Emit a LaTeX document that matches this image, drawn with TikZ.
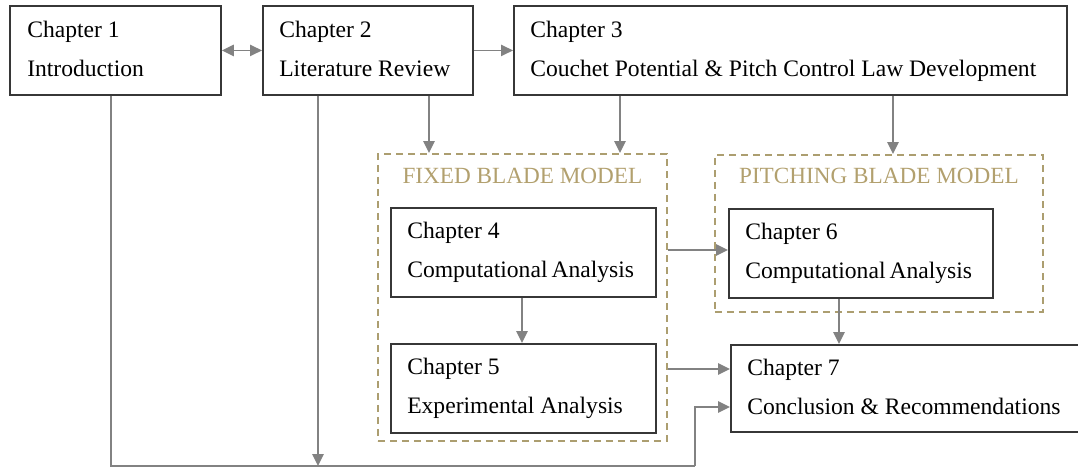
\documentclass[tikz,border=0pt]{standalone}
\usepackage{fontspec}
\setmainfont{Liberation Serif}
\usetikzlibrary{calc,arrows.meta}
\definecolor{boxline}{RGB}{55,55,55}
\definecolor{arrgray}{RGB}{130,130,130}
\definecolor{khaki}{RGB}{172,158,112}
\definecolor{khakitext}{RGB}{178,160,110}
\tikzset{
  chbox/.style={draw=boxline, line width=1.4pt, rectangle, inner sep=0pt},
  grpbox/.style={draw=khaki, line width=1.4pt, dash pattern=on 5.5pt off 3.5pt, rectangle, inner sep=0pt},
  chtext/.style={anchor=base west, inner sep=0pt, font=\fontsize{17.7}{20}\selectfont, text=black},
  grptext/.style={anchor=base, inner sep=0pt, font=\fontsize{17.4}{20}\selectfont, text=khakitext},
  arr/.style={draw=arrgray, line width=1.2pt, -{Triangle[length=9pt,width=8.5pt]}},
  darr/.style={draw=arrgray, line width=1.2pt, {Triangle[length=9pt,width=8.5pt]}-{Triangle[length=9pt,width=8.5pt]}},
  ln/.style={draw=arrgray, line width=1.2pt},
}
\begin{document}
\begin{tikzpicture}[x=0.75pt,y=-0.75pt]
\useasboundingbox (0,0) rectangle (1078,468);
\clip (0,0) rectangle (1078,468);
% group boxes
\node[grpbox, anchor=north west, minimum width=289*0.75pt, minimum height=287*0.75pt] (fixed) at (377,153) {};
\node[grpbox, anchor=north west, minimum width=328*0.75pt, minimum height=157*0.75pt] (pitch) at (714,154) {};
\node[grptext] (fixedlbl) at ($(fixed.north)+(0,30)$) {FIXED BLADE MODEL};
\node[grptext] (pitchlbl) at ($(pitch.north)+(0,29)$) {PITCHING BLADE MODEL};
% chapter boxes
\node[chbox, anchor=north west, minimum width=211*0.75pt, minimum height=89*0.75pt] (c1) at (9,5) {};
\node[chbox, anchor=north west, minimum width=210*0.75pt, minimum height=89*0.75pt] (c2) at (262,5) {};
\node[chbox, anchor=north west, minimum width=553*0.75pt, minimum height=89*0.75pt] (c3) at (513,5) {};
\node[chbox, anchor=north west, minimum width=265*0.75pt, minimum height=89*0.75pt] (c4) at (390,207) {};
\node[chbox, anchor=north west, minimum width=265*0.75pt, minimum height=89*0.75pt] (c5) at (390,343) {};
\node[chbox, anchor=north west, minimum width=264*0.75pt, minimum height=89*0.75pt] (c6) at (728,208) {};
\node[chbox, anchor=north west, minimum width=360*0.75pt, minimum height=87*0.75pt] (c7) at (730,344) {};
% texts
\node[chtext] (c1a) at ($(c1.north west)+(18,32)$) {Chapter 1};
\node[chtext] (c1b) at ($(c1.north west)+(18,71)$) {Introduction};
\node[chtext] (c2a) at ($(c2.north west)+(17,32)$) {Chapter 2};
\node[chtext] (c2b) at ($(c2.north west)+(17,71)$) {Literature Review};
\node[chtext] (c3a) at ($(c3.north west)+(17,32)$) {Chapter 3};
\node[chtext] (c3b) at ($(c3.north west)+(17,71)$) {Couchet Potential \& Pitch Control Law Development};
\node[chtext] (c4a) at ($(c4.north west)+(17,31)$) {Chapter 4};
\node[chtext] (c4b) at ($(c4.north west)+(17,70)$) {Computational\hspace{3pt}Analysis};
\node[chtext] (c5a) at ($(c5.north west)+(17,31)$) {Chapter 5};
\node[chtext] (c5b) at ($(c5.north west)+(17,70)$) {Experimental Analysis};
\node[chtext] (c6a) at ($(c6.north west)+(17,31)$) {Chapter 6};
\node[chtext] (c6b) at ($(c6.north west)+(17,70)$) {Computational\hspace{3pt}Analysis};
\node[chtext] (c7a) at ($(c7.north west)+(17,31)$) {Chapter 7};
\node[chtext] (c7b) at ($(c7.north west)+(17,70)$) {Conclusion \& Recommendations};
% connectors
\draw[darr] (c1.east) -- (c2.west);
\draw[arr] (c2.east) -- (c3.west);
\draw[arr] (c2.south -| 429,0) -- (fixed.north -| 429,0);
\draw[arr] (c3.south -| 620,0) -- (fixed.north -| 620,0);
\draw[arr] (c3.south -| 893,0) -- (pitch.north -| 893,0);
\draw[arr] (c4.south -| 522,0) -- (c5.north -| 522,0);
\draw[arr] (fixed.east |- 0,250) -- (c6.west |- 0,250);
\draw[arr] (c6.south -| 839,0) -- (c7.north -| 839,0);
\draw[arr] (fixed.east |- 0,369) -- (c7.west |- 0,369);
\coordinate (bl) at (111,466);
\coordinate (br) at (695,466);
\draw[ln] (c1.south -| bl) -- (bl) -- (br);
\draw[arr] (br) -- (br |- 0,407) -- (c7.west |- 0,407);
\draw[arr] (c2.south -| 318,0) -- (bl -| 318,0);
\end{tikzpicture}
\end{document}
